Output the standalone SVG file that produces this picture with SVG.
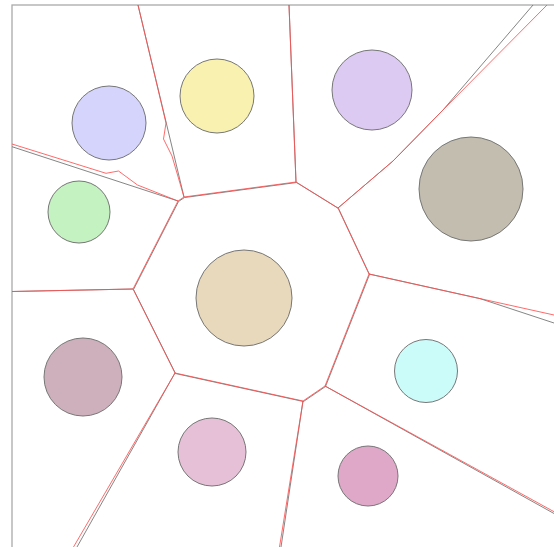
<svg xmlns="http://www.w3.org/2000/svg" width="554" height="547" viewBox="0 0 554 547">
<style>
.frame{fill:none;stroke:#aaa;stroke-width:1.3}
.site{stroke:#777;stroke-width:1}
.blk{fill:none;stroke:#777;stroke-width:0.9}
.red{fill:none;stroke:#ff5050;stroke-opacity:0.85;stroke-width:1;stroke-linejoin:round}
</style>
<rect width="554" height="547" fill="#fff"/>
<rect class="frame" x="12" y="5" width="600" height="600"/>
<g id="connectors">
<g id="exact">
<polyline class="blk" points="12,146.7 178,201"/>
<polyline class="blk" points="138,5 184,197"/>
<polygon class="blk" points="178.5,201.5 184.5,197.5 296.5,182.5 338.5,208.5 369.5,274.5 325.5,386.5 303.5,401.5 175.5,373.5 133.5,289.5"/>
<polyline class="blk" points="338,208 393,161 443,110 533,5"/>
<polyline class="blk" points="369,274 480,298.6 554,323"/>
<polyline class="blk" points="325,386 554,513.5"/>
<polyline class="blk" points="303,401 281,547"/>
<polyline class="blk" points="175,373 77,547"/>
<polyline class="blk" points="133,289 12,291.5"/>
<polyline class="blk" points="296,182 289,5"/>
</g>
<g id="approx">
<polyline class="red" points="12,144 106,173.3 118.5,171 137.5,185 178,201"/>
<polyline class="red" points="138,5 166,123 163.5,139 172,156 184,197"/>
<polygon class="red" points="178,201 184,197 296,182 338,208 369,274 325,386 303,401 175,373 133,289"/>
<polyline class="red" points="338,208 393,161 443,110 547,5"/>
<polyline class="red" points="369,274 554,315"/>
<polyline class="red" points="325,386 554,511.7"/>
<polyline class="red" points="303,401 279.5,547"/>
<polyline class="red" points="175,373 73.5,547"/>
<polyline class="red" points="133,289 12,291.5"/>
<polyline class="red" points="296,182 289,5"/>
</g>
</g>
<g id="n1"><circle class="site" cx="109" cy="123" r="37" fill="#d4d4fc"/></g>
<g id="n2"><circle class="site" cx="217" cy="96" r="37" fill="#f8f1b0"/></g>
<g id="n3"><circle class="site" cx="372" cy="90" r="40" fill="#dccaf2"/></g>
<g id="n4"><circle class="site" cx="471" cy="189" r="52" fill="#c3bdb0"/></g>
<g id="n5"><circle class="site" cx="79" cy="212" r="31" fill="#c4f2c0"/></g>
<g id="n6"><circle class="site" cx="244" cy="298" r="48" fill="#e8d8bc"/></g>
<g id="n7"><circle class="site" cx="83" cy="377" r="39" fill="#cdb0bb"/></g>
<g id="n8"><circle class="site" cx="426" cy="371" r="31.5" fill="#ccfcfa"/></g>
<g id="n9"><circle class="site" cx="212" cy="452" r="34" fill="#e6c0d6"/></g>
<g id="n10"><circle class="site" cx="368" cy="476" r="30" fill="#dfa8c8"/></g>
</svg>
